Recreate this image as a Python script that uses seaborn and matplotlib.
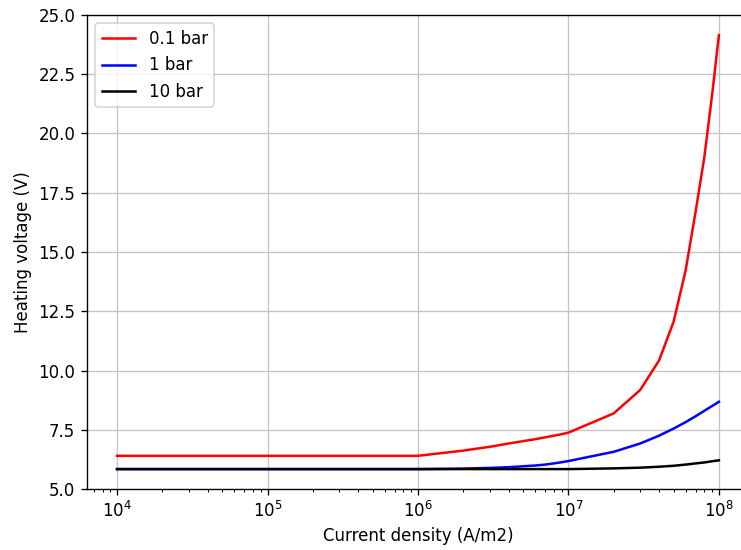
import matplotlib
matplotlib.use("Agg")
import matplotlib.pyplot as plt
import numpy as np
import pandas as pd
import seaborn as sns

# Current density sample points (A/m2)
current_density = [1e4, 1e5, 1e6, 2e6, 3e6, 4e6, 5e6, 6e6, 7e6, 8e6, 9e6,
                   1e7, 2e7, 3e7, 4e7, 5e7, 6e7, 7e7, 8e7, 9e7, 1e8]

# Heating voltage (V) for each pressure
voltage_01bar = [6.40, 6.40, 6.40, 6.62, 6.78, 6.92, 7.02, 7.10, 7.18, 7.25, 7.31,
                 7.38, 8.19, 9.18, 10.42, 12.06, 14.20, 16.70, 19.00, 21.60, 24.15]
voltage_1bar = [5.84, 5.84, 5.84, 5.86, 5.89, 5.92, 5.96, 5.99, 6.03, 6.08, 6.13,
                6.18, 6.57, 6.92, 7.25, 7.55, 7.82, 8.07, 8.30, 8.50, 8.68]
voltage_10bar = [5.84, 5.84, 5.84, 5.84, 5.84, 5.84, 5.84, 5.84, 5.84, 5.84, 5.84,
                 5.84, 5.87, 5.90, 5.94, 5.98, 6.03, 6.08, 6.12, 6.17, 6.21]

labels = ["0.1 bar", "1 bar", "10 bar"]
colors = ["red", "blue", "black"]

df = pd.concat([
    pd.DataFrame({"J": current_density, "V": v, "pressure": lab})
    for v, lab in zip([voltage_01bar, voltage_1bar, voltage_10bar], labels)
], ignore_index=True)

DPI = 120
fig = plt.figure(figsize=(741 / DPI, 550 / DPI), dpi=DPI)
ax = fig.add_axes([87 / 741, 61 / 550, 662 / 741, 474 / 550])

sns.lineplot(data=df, x="J", y="V", hue="pressure", hue_order=labels,
             palette=dict(zip(labels, colors)), estimator=None, sort=False,
             linewidth=1.5, ax=ax)

ax.set_xscale("log")
ax.set_xlim(10 ** 3.8, 10 ** 8.2)
ax.set_ylim(5, 25)
ax.set_yticks(np.arange(5, 25.1, 2.5))
ax.grid(True, which="major", color="#c4c4c4", linewidth=0.8)
ax.set_xlabel("Current density (A/m2)")
ax.set_ylabel("Heating voltage (V)")

handles, leg_labels = ax.get_legend_handles_labels()
ax.legend(handles, leg_labels, loc="upper left")

fig.savefig("out.png", dpi=DPI)
